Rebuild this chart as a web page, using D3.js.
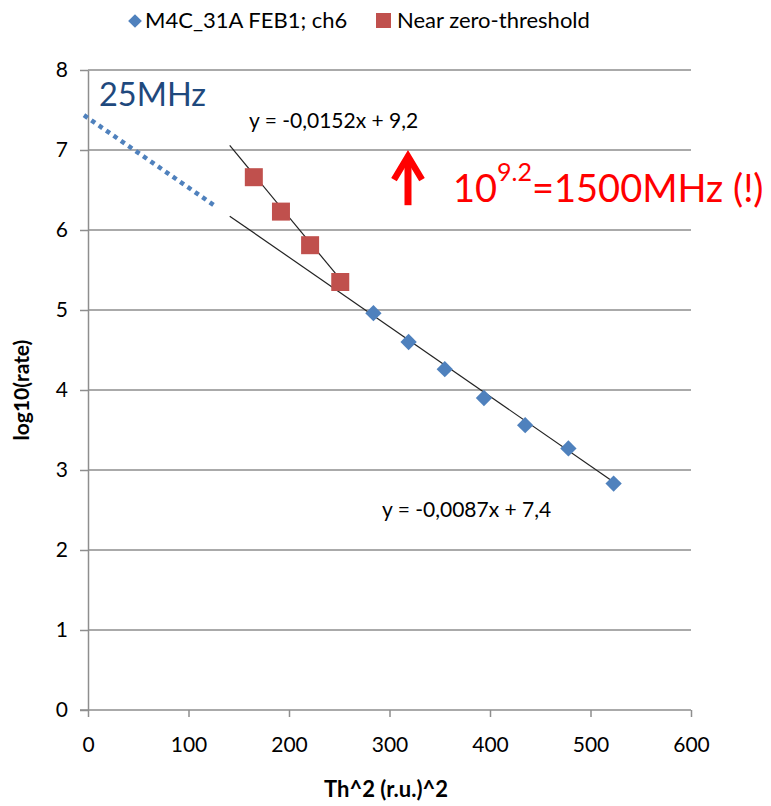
<!DOCTYPE html>
<html>
<head>
<meta charset="utf-8">
<script src="https://cdn.jsdelivr.net/npm/d3@7"></script>
<style>
  body { margin: 0; background: #fff; }
  svg { font-family: Lato, "Open Sans", sans-serif; }
</style>
</head>
<body>
<div id="chart"></div>
<script>
// series
const blueX = [284, 319, 355, 394, 435, 478, 523];
const blueY = [4.96, 4.60, 4.26, 3.90, 3.56, 3.27, 2.83];
const redX = [165, 192, 221, 251];
const redY = [6.66, 6.23, 5.81, 5.35];

// linear fits shown on the chart
const blueFit = { slope: -0.0087, icpt: 7.4, from: 141, to: 523, label: "y = -0,0087x + 7,4" };
const redFit = { slope: -0.0152, icpt: 9.2, from: 141, to: 251, label: "y = -0,0152x + 9,2" };
const extrap = { from: -4, to: 128 };

const xTicks = [0, 100, 200, 300, 400, 500, 600];
const yTicks = [0, 1, 2, 3, 4, 5, 6, 7, 8];
const legendNames = ["M4C_31A FEB1; ch6", "Near zero-threshold"];

const width = 771, height = 806;
const blue = "#4f81bd", red = "#c0504d";

const x = d3.scaleLinear().domain([0, 600]).range([88, 691]);
const y = d3.scaleLinear().domain([0, 8]).range([710, 70]);

const svg = d3.select("#chart").append("svg")
  .attr("width", width)
  .attr("height", height);

// horizontal gridlines
svg.append("g")
  .selectAll("line")
  .data(yTicks.slice(1))
  .enter().append("line")
  .attr("x1", x(0)).attr("x2", x(600))
  .attr("y1", d => y(d)).attr("y2", d => y(d))
  .attr("stroke", "#8e8e8e").attr("stroke-width", 1.5);

// axes
const xAxis = svg.append("g")
  .attr("transform", `translate(0,${y(0)})`)
  .call(d3.axisBottom(x).tickValues(xTicks).tickSize(7).tickPadding(20).tickSizeOuter(0));
const yAxis = svg.append("g")
  .attr("transform", `translate(${x(0)},0)`)
  .call(d3.axisLeft(y).tickValues(yTicks).tickSize(8).tickPadding(12).tickSizeOuter(0));

[xAxis, yAxis].forEach(g => {
  g.select(".domain").attr("stroke", "#8e8e8e").attr("stroke-width", 1.5);
  g.selectAll(".tick line").attr("stroke", "#8e8e8e").attr("stroke-width", 1.5);
  g.selectAll(".tick text").attr("fill", "#000").attr("font-size", 21).attr("font-family", "Lato");
});
// x axis line starts under the y tick
xAxis.select(".domain").attr("d", `M${x(0) - 8},0H${x(600)}`);

// axis titles
svg.append("text")
  .attr("x", 386).attr("y", 797)
  .attr("text-anchor", "middle")
  .attr("font-size", 22).attr("font-weight", "bold")
  .text("Th^2 (r.u.)^2");
svg.append("text")
  .attr("transform", `translate(29,${y(4)}) rotate(-90)`)
  .attr("text-anchor", "middle")
  .attr("font-size", 21).attr("font-weight", "bold")
  .text("log10(rate)");

// fit lines
const fitLine = f => [[f.from, f.icpt + f.slope * f.from], [f.to, f.icpt + f.slope * f.to]];
const line = d3.line().x(d => x(d[0])).y(d => y(d[1]));

svg.append("path")
  .attr("d", line(fitLine({ slope: blueFit.slope, icpt: blueFit.icpt, from: extrap.from, to: extrap.to })))
  .attr("stroke", blue).attr("stroke-width", 4.5)
  .attr("stroke-dasharray", "4.5,4.5").attr("fill", "none");

[blueFit, redFit].forEach(f => {
  svg.append("path")
    .attr("d", line(fitLine(f)))
    .attr("stroke", "#222").attr("stroke-width", 1.2).attr("fill", "none");
});

// markers
const diamond = d3.symbol().type(d3.symbolDiamond2).size(170);
svg.append("g")
  .selectAll("path")
  .data(blueX.map((d, i) => [d, blueY[i]]))
  .enter().append("path")
  .attr("d", diamond)
  .attr("transform", d => `translate(${x(d[0])},${y(d[1])})`)
  .attr("fill", blue);

svg.append("g")
  .selectAll("rect")
  .data(redX.map((d, i) => [d, redY[i]]))
  .enter().append("rect")
  .attr("x", d => x(d[0]) - 9).attr("y", d => y(d[1]) - 9)
  .attr("width", 18).attr("height", 18)
  .attr("fill", red);

// fit equations
svg.append("text")
  .attr("x", 249).attr("y", 128)
  .attr("font-size", 21)
  .text(redFit.label);
svg.append("text")
  .attr("x", 382).attr("y", 517)
  .attr("font-size", 21)
  .text(blueFit.label);

// annotations
svg.append("text")
  .attr("x", 99).attr("y", 106)
  .attr("font-size", 32.5).attr("fill", "#1f497d")
  .text("25MHz");

// red arrow
const ax = x(318.4);
svg.append("path")
  .attr("d", `M${ax},${y(6.31)}V${y(6.88)}`)
  .attr("stroke", "#ff0000").attr("stroke-width", 7);
svg.append("path")
  .attr("d", `M${ax - 14},${y(6.63)}L${ax},${y(6.92)}L${ax + 14},${y(6.63)}`)
  .attr("stroke", "#ff0000").attr("stroke-width", 6.5)
  .attr("stroke-linejoin", "miter").attr("fill", "none");

const big = svg.append("text")
  .attr("x", 453).attr("y", 202)
  .attr("font-size", 38).attr("fill", "#ff0000");
big.append("tspan").text("10");
big.append("tspan").attr("dy", -21).attr("font-size", 25).text("9.2");
big.append("tspan").attr("dy", 21).text("=1500MHz (!)");

// legend
const leg = svg.append("g").attr("font-size", 22);
leg.append("path")
  .attr("d", d3.symbol().type(d3.symbolDiamond2).size(120))
  .attr("transform", "translate(135,21)")
  .attr("fill", blue);
leg.append("text").attr("x", 145).attr("y", 28).text(legendNames[0]);
leg.append("rect")
  .attr("x", 376).attr("y", 13).attr("width", 15).attr("height", 15)
  .attr("fill", red);
leg.append("text").attr("x", 397).attr("y", 28).text(legendNames[1]);
</script>
</body>
</html>
